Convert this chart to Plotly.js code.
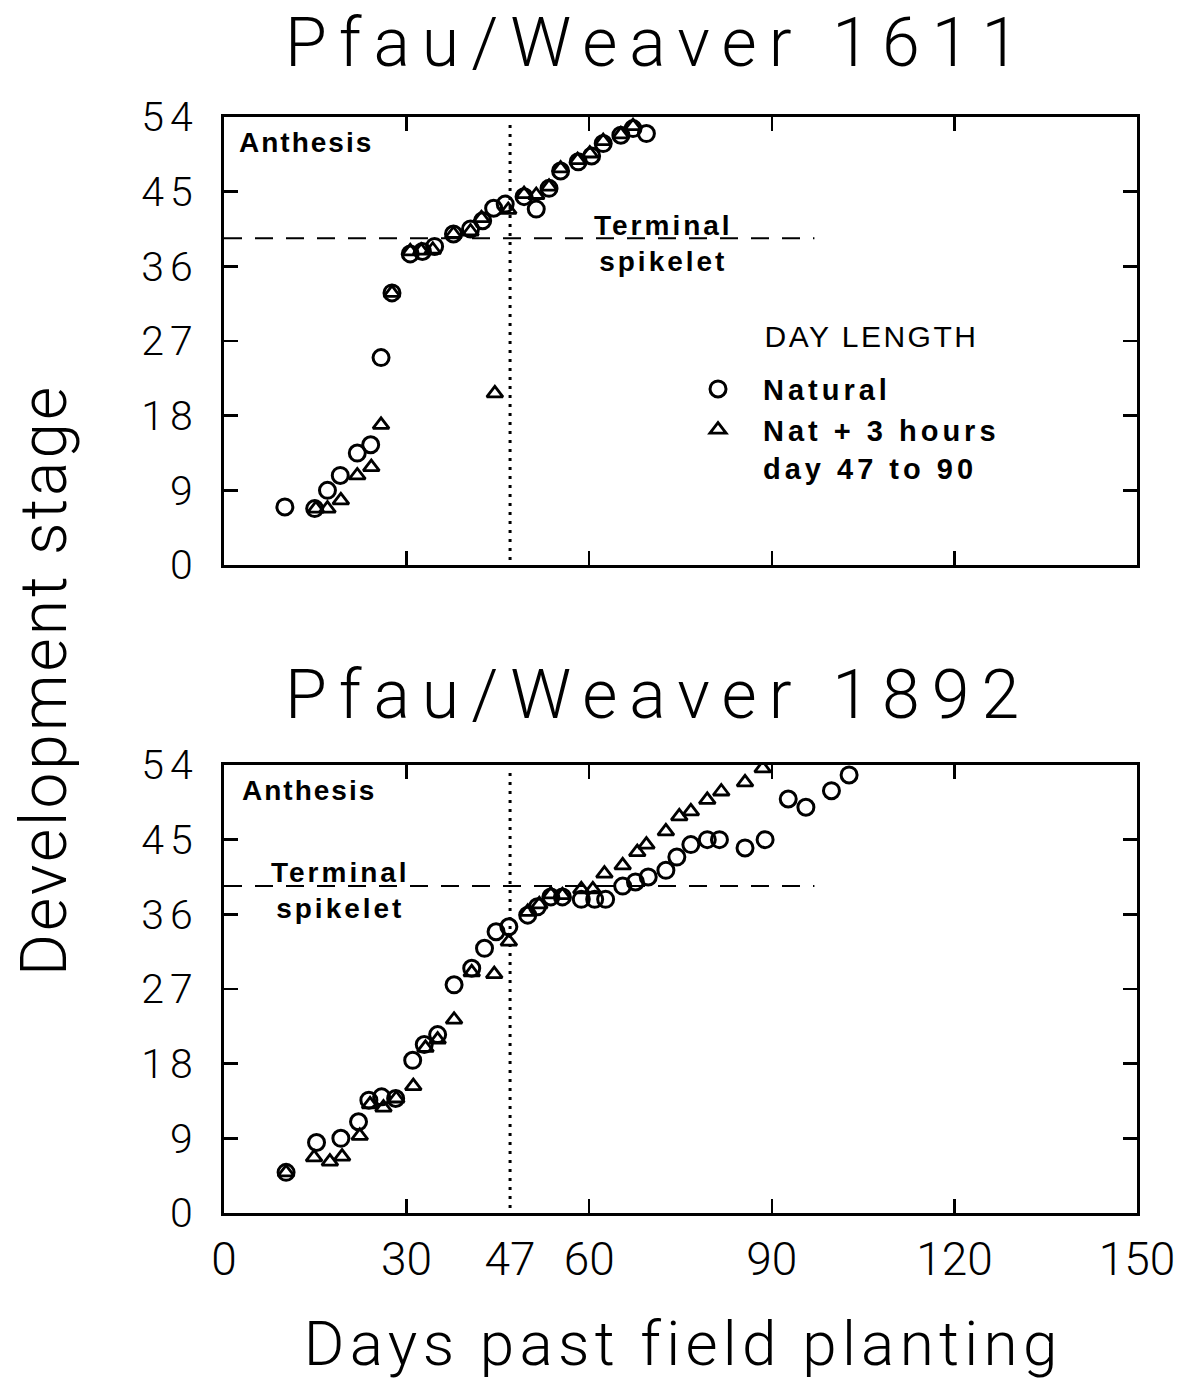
<!DOCTYPE html>
<html><head><meta charset="utf-8">
<script src="https://cdn.plot.ly/plotly-3.0.1.min.js"></script>
<style>
body{margin:0;background:#fff}
g.annotation[data-index="0"] text, g.annotation[data-index="1"] text {letter-spacing: 12px;}
g.annotation[data-index="2"] text {letter-spacing: 3px;}
g.annotation[data-index="3"] text {letter-spacing: 5.3px;}
g.annotation[data-index="4"] text, g.annotation[data-index="5"] text {letter-spacing: 2px;}
g.annotation[data-index="6"] text, g.annotation[data-index="7"] text {letter-spacing: 3px;}
g.annotation[data-index="8"] text {letter-spacing: 2.5px;}
.ytick text, .y2tick text {letter-spacing: 6px;}
.legendtext {letter-spacing: 4px;}
</style>
</head><body><div id="chart" style="width:1199px;height:1383px"></div>
<script>
// ---- axis definitions ----
const xTickVals = [0, 30, 47, 60, 90, 120, 150];
const xTickText = ['0', '30', '47', '60', '90', '120', '150'];
const xMinorTicks = [30, 60, 90, 120];
const yTickVals = [0, 9, 18, 27, 36, 45, 54];
const treatmentStartDay = 47;
const terminalSpikeletStage = 39.4;
const terminalLineEndDay = 97;

// ---- Pfau/Weaver 1611 ----
const p1611NaturalDay   = [10.0,14.9,17.0,19.1,21.9,24.1,25.8,27.6,30.6,32.6,34.6,37.7,40.5,42.5,44.3,46.2,49.3,51.3,53.4,55.3,58.2,60.4,62.3,65.2,67.2,69.4];
const p1611NaturalStage = [7.0,6.8,9.0,10.8,13.5,14.5,25.0,32.8,37.5,37.8,38.4,39.9,40.5,41.5,43.0,43.5,44.4,42.9,45.4,47.5,48.6,49.3,50.8,51.8,52.6,52.0];
const p1611ExtendedDay   = [15.1,17.0,19.2,21.9,24.2,25.8,27.6,30.6,32.4,34.3,37.7,40.5,42.3,44.5,46.7,49.3,51.3,53.4,55.3,58.1,60.1,62.3,65.2,67.2];
const p1611ExtendedStage = [6.8,6.8,7.8,10.8,11.8,16.9,32.8,37.8,37.9,38.0,39.9,40.2,41.8,20.7,42.8,44.7,44.6,45.6,47.8,48.8,49.6,51.1,51.9,52.9];

// ---- Pfau/Weaver 1892 ----
const p1892NaturalDay   = [10.2,15.2,19.2,22.1,23.8,25.9,28.2,31.0,32.9,35.1,37.8,40.7,42.8,44.7,46.8,49.9,51.5,53.7,55.6,58.7,60.9,62.7,65.5,67.6,69.7,72.6,74.4,76.7,79.4,81.4,85.6,88.9,92.7,95.6,99.8,102.7];
const p1892NaturalStage = [4.9,8.5,9.0,11.0,13.6,14.0,13.8,18.4,20.3,21.5,27.5,29.5,31.9,33.9,34.5,35.9,36.9,38.1,38.1,37.8,37.8,37.8,39.4,39.9,40.5,41.3,42.9,44.4,45.0,45.0,44.0,45.0,49.9,48.9,50.9,52.8];
const p1892ExtendedDay   = [10.2,14.8,17.4,19.4,22.3,24.0,26.2,28.3,31.1,33.1,35.1,37.8,40.7,44.4,46.8,49.9,51.8,53.7,55.6,58.7,60.6,62.5,65.5,67.9,69.4,72.6,74.8,76.7,79.4,81.7,85.6,88.5];
const p1892ExtendedStage = [4.9,6.7,6.2,6.8,9.3,13.1,12.7,13.8,15.3,19.9,20.9,23.3,29.0,28.8,32.7,36.3,37.2,38.4,38.3,39.0,39.0,40.9,41.9,43.5,44.4,46.0,47.8,48.4,49.8,50.8,51.9,53.6];

const seriesNames = ['Natural', 'Nat + 3 hours<br>day 47 to 90'];
const panelTitles = ['Pfau/Weaver 1611', 'Pfau/Weaver 1892'];

const thinFont = {family: 'Roboto, "DejaVu Sans", sans-serif', color: '#000', weight: 300};
const boldFont = {family: '"Liberation Sans", Arial, sans-serif', color: '#000', weight: 'bold'};
const plainFont = {family: '"Liberation Sans", Arial, sans-serif', color: '#000', weight: 'normal'};

const circleMarker = {symbol: 'circle-open', size: 16, color: '#000', line: {width: 3, color: '#000'}};
const triMarker = {symbol: 'triangle-up-open', size: 14, color: '#000', line: {width: 2.8, color: '#000'}};

const traces = [
  {x: p1611NaturalDay, y: p1611NaturalStage, xaxis: 'x', yaxis: 'y', mode: 'markers', type: 'scatter', name: seriesNames[0], marker: circleMarker, showlegend: true},
  {x: p1611ExtendedDay, y: p1611ExtendedStage, xaxis: 'x', yaxis: 'y', mode: 'markers', type: 'scatter', name: seriesNames[1], marker: triMarker, showlegend: true},
  {x: p1892NaturalDay, y: p1892NaturalStage, xaxis: 'x2', yaxis: 'y2', mode: 'markers', type: 'scatter', name: seriesNames[0], marker: circleMarker, showlegend: false},
  {x: p1892ExtendedDay, y: p1892ExtendedStage, xaxis: 'x2', yaxis: 'y2', mode: 'markers', type: 'scatter', name: seriesNames[1], marker: triMarker, showlegend: false}
];

function xAxis(showLabels, anchor) {
  return {
    range: [0, 150], domain: [0, 1], anchor: anchor,
    tickvals: xTickVals, ticktext: xTickText, ticks: '', showticklabels: showLabels,
    tickfont: Object.assign({size: 46}, thinFont), ticklabelstandoff: 4,
    minor: {tickvals: xMinorTicks, ticks: 'inside', ticklen: 14, tickwidth: 2.5, tickcolor: '#000'},
    showline: true, linewidth: 3, linecolor: '#000', mirror: 'ticks',
    showgrid: false, zeroline: false, fixedrange: true
  };
}
function yAxis(domain, anchor) {
  return {
    range: [0, 54], domain: domain, anchor: anchor,
    tickvals: yTickVals, ticks: 'inside', ticklen: 14, tickwidth: 2.5, tickcolor: '#000',
    tickfont: Object.assign({size: 41}, thinFont), ticklabelstandoff: 14,
    showline: true, linewidth: 3, linecolor: '#000', mirror: 'ticks',
    showgrid: false, zeroline: false, fixedrange: true
  };
}

const shapes = [];
[['x', 'y'], ['x2', 'y2']].forEach(([xr, yr]) => {
  shapes.push({type: 'line', xref: xr, yref: yr, x0: 0, x1: terminalLineEndDay, y0: terminalSpikeletStage, y1: terminalSpikeletStage,
    line: {color: '#000', width: 2, dash: '18px,13px'}});
  shapes.push({type: 'line', xref: xr, yref: yr, x0: treatmentStartDay, x1: treatmentStartDay, y0: 0.6, y1: 53.4,
    line: {color: '#000', width: 3, dash: '3px,6px'}});
});

const annotations = [
  {text: panelTitles[0], xref: 'paper', yref: 'paper', x: 0.4753, y: 1.0676, showarrow: false, xanchor: 'center', yanchor: 'middle', font: Object.assign({size: 68}, thinFont)},
  {text: panelTitles[1], xref: 'paper', yref: 'paper', x: 0.4753, y: 0.4726, showarrow: false, xanchor: 'center', yanchor: 'middle', font: Object.assign({size: 68}, thinFont)},
  {text: 'Development stage', xref: 'paper', yref: 'paper', x: -0.197, y: 0.486, textangle: -90, showarrow: false, xanchor: 'center', yanchor: 'middle', font: Object.assign({size: 64}, thinFont)},
  {text: 'Days past field planting', xref: 'paper', yref: 'paper', x: 0.503, y: -0.1195, showarrow: false, xanchor: 'center', yanchor: 'middle', font: Object.assign({size: 62}, thinFont)},
  {text: 'Anthesis', xref: 'x', yref: 'y', x: 3.4, y: 50.9, showarrow: false, xanchor: 'left', yanchor: 'middle', font: Object.assign({size: 28}, boldFont)},
  {text: 'Anthesis', xref: 'x2', yref: 'y2', x: 3.9, y: 50.9, showarrow: false, xanchor: 'left', yanchor: 'middle', font: Object.assign({size: 28}, boldFont)},
  {text: 'Terminal<br>spikelet', xref: 'x', yref: 'y', x: 72.2, y: 38.8, showarrow: false, xanchor: 'center', yanchor: 'middle', font: Object.assign({size: 28}, boldFont)},
  {text: 'Terminal<br>spikelet', xref: 'x2', yref: 'y2', x: 19.1, y: 38.9, showarrow: false, xanchor: 'center', yanchor: 'middle', font: Object.assign({size: 28}, boldFont)},
  {text: 'DAY LENGTH', xref: 'x', yref: 'y', x: 90.6, y: 27.5, showarrow: false, xanchor: 'left', yanchor: 'middle', font: Object.assign({size: 30}, plainFont)}
];

const layout = {
  width: 1199, height: 1383,
  margin: {l: 224, r: 62, t: 117, b: 170},
  paper_bgcolor: '#fff', plot_bgcolor: '#fff',
  xaxis: xAxis(false, 'y'),
  yaxis: yAxis([0.5912, 1], 'x'),
  xaxis2: xAxis(true, 'y2'),
  yaxis2: yAxis([0, 0.4088], 'x2'),
  shapes: shapes,
  annotations: annotations,
  showlegend: true,
  legend: {x: 0.4918, y: 0.775, xanchor: 'left', yanchor: 'top', bgcolor: 'rgba(0,0,0,0)', borderwidth: 0,
    font: Object.assign({size: 29}, boldFont), itemwidth: 80, tracegroupgap: 0, valign: 'top'}
};

Plotly.newPlot('chart', traces, layout, {displayModeBar: false, staticPlot: true});
</script>
</body></html>
